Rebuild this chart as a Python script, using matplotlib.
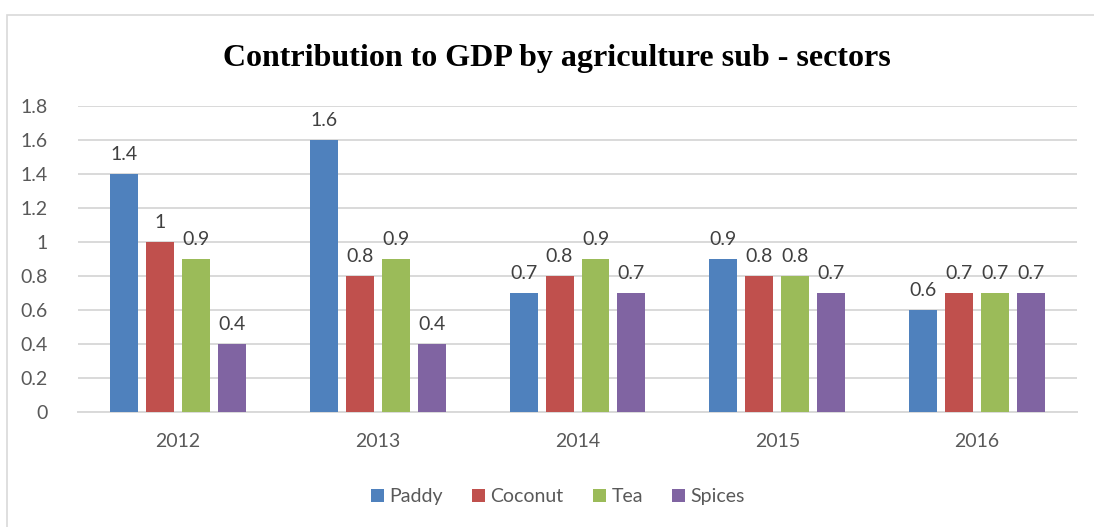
import matplotlib.pyplot as plt
from matplotlib.patches import Rectangle
import numpy as np

years = ["2012", "2013", "2014", "2015", "2016"]
paddy = [1.4, 1.6, 0.7, 0.9, 0.6]
coconut = [1.0, 0.8, 0.8, 0.8, 0.7]
tea = [0.9, 0.9, 0.9, 0.8, 0.7]
spices = [0.4, 0.4, 0.7, 0.7, 0.7]

series = [("Paddy", paddy, "#4F81BD"),
          ("Coconut", coconut, "#C0504D"),
          ("Tea", tea, "#9BBB59"),
          ("Spices", spices, "#8064A2")]

plt.rcParams["font.family"] = ["Lato", "DejaVu Sans"]

fig = plt.figure(figsize=(10.94, 5.27), dpi=100)
ax = fig.add_axes([0.0713, 0.2182, 0.9132, 0.5807])

# chart border
fig.patches.append(Rectangle((7 / 1094, -0.1), 1.2, (527 - 15) / 527 + 0.1,
                             transform=fig.transFigure, fill=False,
                             edgecolor="#D9D9D9", linewidth=1.2))

x = np.arange(len(years))
step = 0.18
width = 0.14
for i, (name, vals, color) in enumerate(series):
    pos = x + (i - 1.5) * step
    bars = ax.bar(pos, vals, width, color=color, label=name, zorder=3)
    for b, v in zip(bars, vals):
        ax.annotate("%g" % v, (b.get_x() + b.get_width() / 2, v),
                    xytext=(0, 8), textcoords="offset points",
                    ha="center", va="bottom", fontsize=14, color="#404040")

ax.set_xlim(-0.5, 4.5)
ax.set_ylim(0, 1.8)
ax.set_yticks(np.arange(0, 1.81, 0.2))
ax.set_yticklabels(["0", "0.2", "0.4", "0.6", "0.8", "1", "1.2", "1.4", "1.6", "1.8"])
ax.set_xticks(x)
ax.set_xticklabels(years)
ax.tick_params(axis="both", length=0, labelsize=14, labelcolor="#595959")
ax.tick_params(axis="x", pad=15)
ax.tick_params(axis="y", pad=22)
ax.grid(axis="y", color="#D9D9D9", linewidth=1.4, zorder=0)
for s in ["top", "right", "left"]:
    ax.spines[s].set_visible(False)
ax.spines["bottom"].set_color("#D9D9D9")
ax.spines["bottom"].set_linewidth(1.4)

fig.text(0.509, 0.889, "Contribution to GDP by agriculture sub - sectors",
         ha="center", va="center", fontsize=23, fontweight="bold",
         family="Liberation Serif", color="black")

fig.legend(loc="center", bbox_to_anchor=(0.51, 0.057), ncol=4, frameon=False,
           fontsize=14, labelcolor="#595959", handlelength=0.65, handleheight=0.65,
           handletextpad=0.3, columnspacing=1.5)

fig.savefig("out.png", dpi=100)
